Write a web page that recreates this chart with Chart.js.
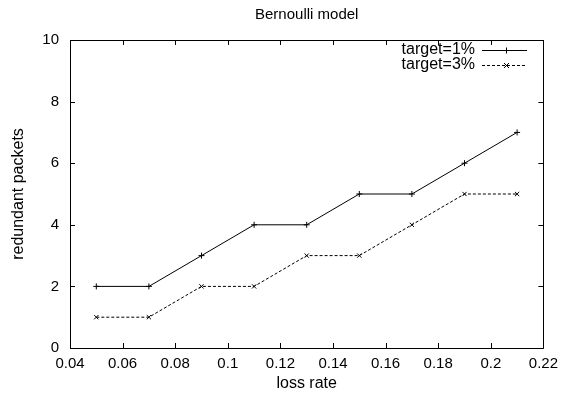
<!DOCTYPE html>
<html lang="en">
<head>
<meta charset="UTF-8">
<title>Bernoulli model</title>
<script src="https://cdn.jsdelivr.net/npm/chart.js"></script>
<style>
  html, body { margin: 0; padding: 0; background: #fff; }
</style>
</head>
<body>
<canvas id="chart" width="565" height="398"></canvas>
<script>
// data
const lossRate = [0.05, 0.07, 0.09, 0.11, 0.13, 0.15, 0.17, 0.19, 0.21];
const target1 = [2, 2, 3, 4, 4, 5, 5, 6, 7];
const target3 = [1, 1, 2, 2, 3, 3, 4, 5, 5];
const xTicks = [0.04, 0.06, 0.08, 0.1, 0.12, 0.14, 0.16, 0.18, 0.2, 0.22];
const yTicks = [0, 2, 4, 6, 8, 10];
const seriesNames = ['target=1%', 'target=3%'];

const FONT = "'Liberation Sans', Arial, Helvetica, sans-serif";
Chart.defaults.font.family = FONT;
Chart.defaults.font.size = 15;
Chart.defaults.color = '#000';

function pts(ys) {
    return lossRate.map((x, i) => ({ x: x, y: ys[i] }));
}

// gnuplot-like frame, inward mirrored ticks, title and legend
const gnuFrame = {
    id: 'gnuFrame',
    afterDatasetsDraw(chart) {
        const ctx = chart.ctx;
        const a = chart.chartArea;
        const xs = chart.scales.x, ys = chart.scales.y;
        const tl = 5;
        ctx.save();
        ctx.strokeStyle = '#000';
        ctx.lineWidth = 1;
        ctx.setLineDash([]);
        ctx.beginPath();
        ctx.rect(Math.round(a.left) + 0.5, Math.round(a.top) + 0.5,
                 Math.round(a.right - a.left), Math.round(a.bottom - a.top));
        xTicks.forEach(v => {
            const px = Math.round(xs.getPixelForValue(v)) + 0.5;
            ctx.moveTo(px, a.bottom); ctx.lineTo(px, a.bottom - tl);
            ctx.moveTo(px, a.top); ctx.lineTo(px, a.top + tl);
        });
        yTicks.forEach(v => {
            const py = Math.round(ys.getPixelForValue(v)) + 0.5;
            ctx.moveTo(a.left, py); ctx.lineTo(a.left + tl, py);
            ctx.moveTo(a.right, py); ctx.lineTo(a.right - tl, py);
        });
        ctx.stroke();

        // title
        ctx.fillStyle = '#000';
        ctx.font = '15px ' + FONT;
        ctx.textAlign = 'center';
        ctx.textBaseline = 'middle';
        ctx.fillText('Bernoulli model', (a.left + a.right) / 2, 15);

        // legend
        ctx.font = '16px ' + FONT;
        chart.data.datasets.forEach((ds, i) => {
            const y = 50 + i * 15;
            ctx.textAlign = 'right';
            ctx.fillText(ds.label, 475, y);
            ctx.beginPath();
            ctx.setLineDash(ds.borderDash || []);
            ctx.moveTo(482, y + 0.5); ctx.lineTo(527, y + 0.5);
            ctx.stroke();
            ctx.setLineDash([]);
            ctx.beginPath();
            if (ds.pointStyle === 'cross') {
                ctx.moveTo(506.5, y - 2.5); ctx.lineTo(506.5, y + 3.5);
                ctx.moveTo(503.5, y + 0.5); ctx.lineTo(509.5, y + 0.5);
            } else {
                ctx.moveTo(504, y - 2); ctx.lineTo(509, y + 3);
                ctx.moveTo(509, y - 2); ctx.lineTo(504, y + 3);
            }
            ctx.stroke();
        });
        ctx.restore();
    }
};

new Chart(document.getElementById('chart'), {
    type: 'scatter',
    data: {
        datasets: [{
            label: seriesNames[0],
            data: pts(target1),
            showLine: true,
            borderColor: '#000',
            backgroundColor: '#000',
            borderWidth: 1,
            pointStyle: 'cross',
            pointRadius: 3,
            pointBorderWidth: 1
        }, {
            label: seriesNames[1],
            data: pts(target3),
            showLine: true,
            borderColor: '#000',
            backgroundColor: '#000',
            borderWidth: 1,
            borderDash: [3, 2],
            pointStyle: 'crossRot',
            pointRadius: 3,
            pointBorderWidth: 1
        }]
    },
    options: {
        responsive: false,
        animation: false,
        layout: { padding: { top: 40, right: 17, left: 0, bottom: 0 } },
        plugins: {
            legend: { display: false },
            title: { display: false },
            tooltip: { enabled: false }
        },
        scales: {
            x: {
                type: 'linear',
                min: 0.04,
                max: 0.22,
                afterBuildTicks: s => { s.ticks = xTicks.map(v => ({ value: v })); },
                afterFit: s => { s.height = 50; },
                grid: { display: false, drawTicks: false },
                border: { display: false },
                ticks: {
                    padding: 7,
                    callback: v => String(Number(v.toFixed(2)))
                },
                title: { display: true, text: 'loss rate', font: { size: 16 }, padding: { top: 0, bottom: 5 } }
            },
            y: {
                type: 'linear',
                min: 0,
                max: 10,
                afterBuildTicks: s => { s.ticks = yTicks.map(v => ({ value: v })); },
                afterFit: s => { s.width = 70; },
                grid: { display: false, drawTicks: false },
                border: { display: false },
                ticks: { padding: 11 },
                title: { display: true, text: 'redundant packets', font: { size: 16 }, padding: { top: 9, bottom: 0 } }
            }
        }
    },
    plugins: [gnuFrame]
});
</script>
</body>
</html>
